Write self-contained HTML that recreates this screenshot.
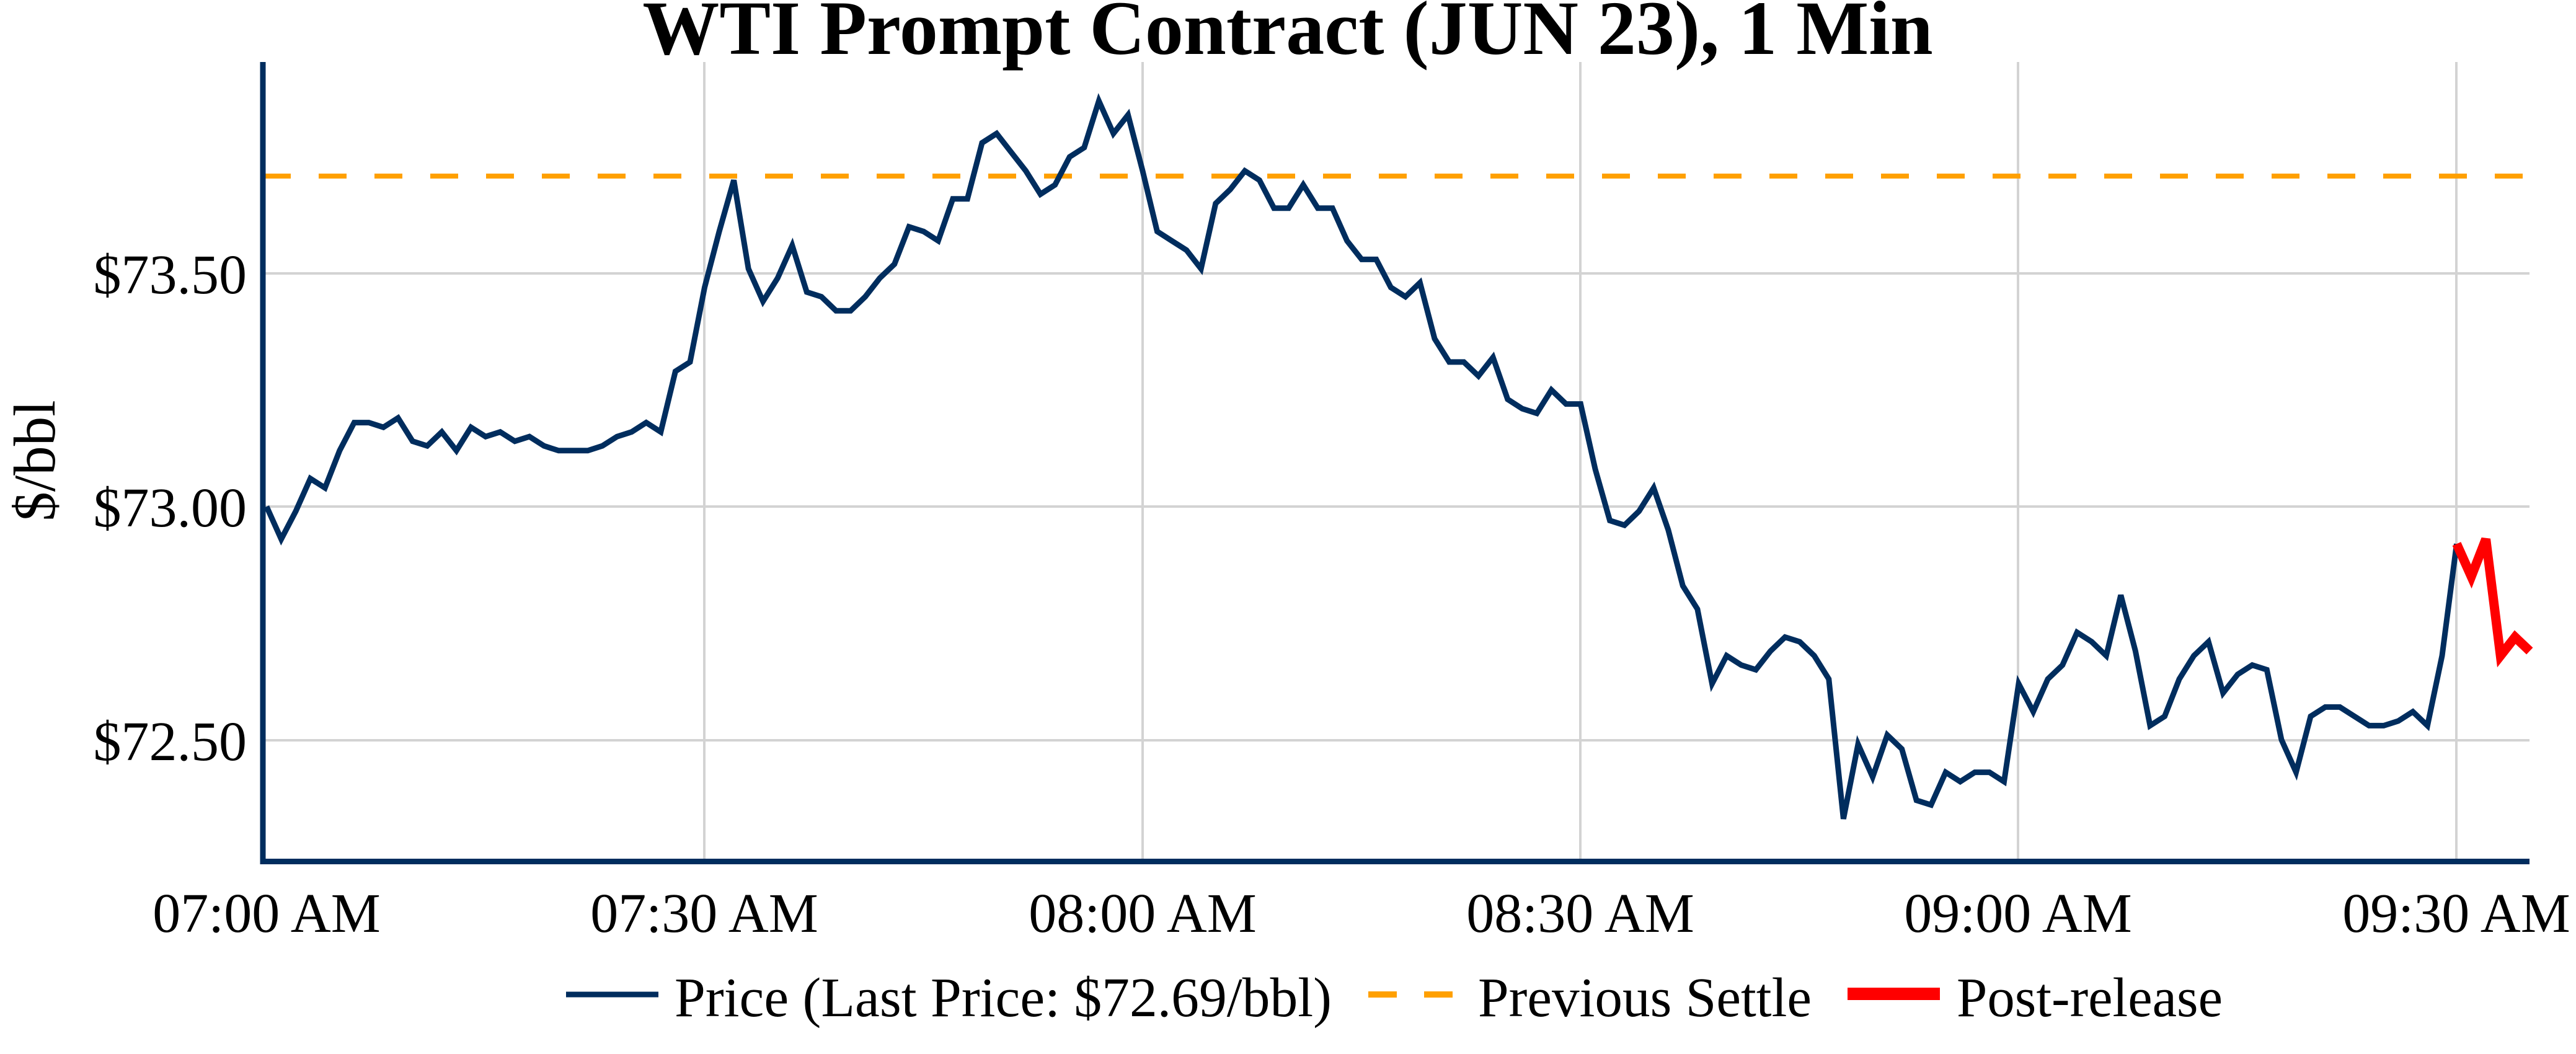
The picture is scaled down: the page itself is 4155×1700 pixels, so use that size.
<!DOCTYPE html>
<html><head><meta charset="utf-8"><style>
html,body{margin:0;padding:0;background:#fff;}
svg{display:block;font-family:"Liberation Serif","Times New Roman",serif;}
</style></head><body>
<svg id="s" width="4155" height="1700" viewBox="0 0 4155 1700" xmlns="http://www.w3.org/2000/svg">
<rect width="4155" height="1700" fill="#fff"/>
<g stroke="#d3d3d3" stroke-width="4">
<line x1="424" y1="441" x2="4080" y2="441"/>
<line x1="424" y1="817" x2="4080" y2="817"/>
<line x1="424" y1="1194" x2="4080" y2="1194"/>
<line x1="1136" y1="100" x2="1136" y2="1390"/>
<line x1="1843" y1="100" x2="1843" y2="1390"/>
<line x1="2549" y1="100" x2="2549" y2="1390"/>
<line x1="3255" y1="100" x2="3255" y2="1390"/>
<line x1="3962" y1="100" x2="3962" y2="1390"/>
</g>
<line x1="424" y1="284" x2="4080" y2="284" stroke="#ffa000" stroke-width="8" stroke-dasharray="45,45"/>
<polyline id="p" fill="none" stroke="#002d5e" stroke-width="9" stroke-linejoin="miter"/>
<polyline id="r" fill="none" stroke="#ff0000" stroke-width="15" stroke-linejoin="miter"/>
<line x1="424" y1="100" x2="424" y2="1394" stroke="#002d5e" stroke-width="9"/>
<line x1="420" y1="1389.5" x2="4080" y2="1389.5" stroke="#002d5e" stroke-width="9"/>
<text x="2077" y="87" font-size="124" font-weight="bold" text-anchor="middle">WTI Prompt Contract (JUN 23), 1 Min</text>
<g font-size="90" text-anchor="end">
<text x="398" y="473">$73.50</text>
<text x="398" y="849">$73.00</text>
<text x="398" y="1226">$72.50</text>
</g>
<text transform="translate(88,743) rotate(-90)" font-size="95" text-anchor="middle">$/bbl</text>
<g font-size="90" text-anchor="middle">
<text x="430" y="1503">07:00 AM</text>
<text x="1136" y="1503">07:30 AM</text>
<text x="1843" y="1503">08:00 AM</text>
<text x="2549" y="1503">08:30 AM</text>
<text x="3255" y="1503">09:00 AM</text>
<text x="3962" y="1503">09:30 AM</text>
</g>
<line x1="913" y1="1604" x2="1062" y2="1604" stroke="#002d5e" stroke-width="9"/>
<line x1="2207" y1="1604" x2="2253" y2="1604" stroke="#ffa000" stroke-width="10"/>
<line x1="2297" y1="1604" x2="2343" y2="1604" stroke="#ffa000" stroke-width="10"/>
<line x1="2980" y1="1603" x2="3129" y2="1603" stroke="#ff0000" stroke-width="20"/>
<g font-size="90">
<text x="1088" y="1639" textLength="1060" lengthAdjust="spacingAndGlyphs">Price (Last Price: $72.69/bbl)</text>
<text x="2384" y="1639" textLength="538" lengthAdjust="spacingAndGlyphs">Previous Settle</text>
<text x="3156" y="1639" textLength="429" lengthAdjust="spacingAndGlyphs">Post-release</text>
</g>
</svg>
<script>
var d=[73.00,72.93,72.99,73.06,73.04,73.12,73.18,73.18,73.17,73.19,73.14,73.13,73.16,73.12,73.17,73.15,73.16,73.14,73.15,73.13,73.12,73.12,73.12,73.13,73.15,73.16,73.18,73.16,73.29,73.31,
73.47,73.59,73.70,73.51,73.44,73.49,73.56,73.46,73.45,73.42,73.42,73.45,73.49,73.52,73.60,73.59,73.57,73.66,73.66,73.78,
73.80,73.76,73.72,73.67,73.69,73.75,73.77,73.87,73.80,73.84,73.72,73.59,73.57,73.55,73.51,73.65,73.68,73.72,73.70,73.64,
73.64,73.69,73.64,73.64,73.57,73.53,73.53,73.47,73.45,73.48,73.36,73.31,73.31,73.28,73.32,73.23,73.21,73.20,73.25,73.22,
73.22,73.08,72.97,72.96,72.99,73.04,72.95,72.83,72.78,72.62,72.68,72.66,72.65,72.69,72.72,72.71,72.68,72.63,72.33,72.49,
72.42,72.51,72.48,72.37,72.36,72.43,72.41,72.43,72.43,72.41,72.62,72.56,72.63,72.66,72.73,72.71,72.68,72.81,72.69,72.53,
72.55,72.63,72.68,72.71,72.60,72.64,72.66,72.65,72.50,72.43,72.55,72.57,72.57,72.55,72.53,72.53,72.54,72.56,72.53,72.68,72.92];
var r=[72.92,72.85,72.93,72.68,72.72,72.69];
function X(m){return (430+23.55*m).toFixed(1);}
function Y(p){return (817-(p-73)*752).toFixed(1);}
var a=[];for(var i=0;i<d.length;i++)a.push(X(i)+","+Y(d[i]));
document.getElementById("p").setAttribute("points",a.join(" "));
var b=[];for(var j=0;j<r.length;j++)b.push(X(150+j)+","+Y(r[j]));
document.getElementById("r").setAttribute("points",b.join(" "));
</script>
</body></html>
